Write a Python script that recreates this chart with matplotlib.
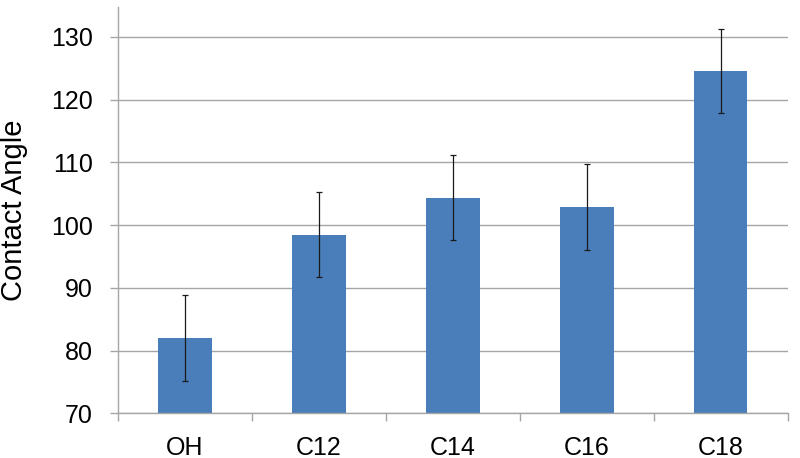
import numpy as np
import matplotlib.pyplot as plt

# -------------------------------------------------------------
# Data
# -------------------------------------------------------------
categories = ['OH', 'C12', 'C14', 'C16', 'C18']
contact_angle = [82.0, 98.5, 104.4, 102.9, 124.6]
errors = [6.8, 6.8, 6.8, 6.8, 6.75]
y_ticks = [70, 80, 90, 100, 110, 120, 130]

bar_color = '#4A7EBB'
grid_color = '#A6A6A6'

plt.rcParams['font.family'] = ['Liberation Sans', 'DejaVu Sans']

# -------------------------------------------------------------
# Plot
# -------------------------------------------------------------
fig = plt.figure(figsize=(8, 4.58), dpi=100)
ax = fig.add_axes([0.1475, 0.0976, 0.8371, 0.8871])

x = np.arange(len(categories))
ax.bar(x, contact_angle, width=0.4, color=bar_color, zorder=2)
ax.errorbar(x, contact_angle, yerr=errors, fmt='none', ecolor='#1a1a1a',
            elinewidth=0.9, capsize=2.5, capthick=0.9, zorder=3)

ax.set_xlim(-0.5, len(categories) - 0.5)
ax.set_ylim(70, 134.78)
ax.set_yticks(y_ticks)
ax.set_yticklabels([str(t) for t in y_ticks], fontsize=18)

ax.set_xticks(x)
ax.set_xticklabels(categories, fontsize=18)
ax.set_xticks(np.arange(-0.5, len(categories), 1), minor=True)
ax.tick_params(axis='x', which='major', length=0, pad=16)
ax.tick_params(axis='x', which='minor', length=6, color=grid_color, width=1)
ax.tick_params(axis='y', length=6, color=grid_color, width=1, pad=12)

ax.yaxis.grid(True, color=grid_color, linewidth=1, zorder=0)
ax.set_axisbelow(True)

for side in ['top', 'right']:
    ax.spines[side].set_visible(False)
for side in ['left', 'bottom']:
    ax.spines[side].set_color(grid_color)
    ax.spines[side].set_linewidth(1)

ax.set_ylabel('Contact Angle', fontsize=21)
ax.yaxis.set_label_coords(-0.134, 0.5)

fig.savefig('out.png', dpi=100)
